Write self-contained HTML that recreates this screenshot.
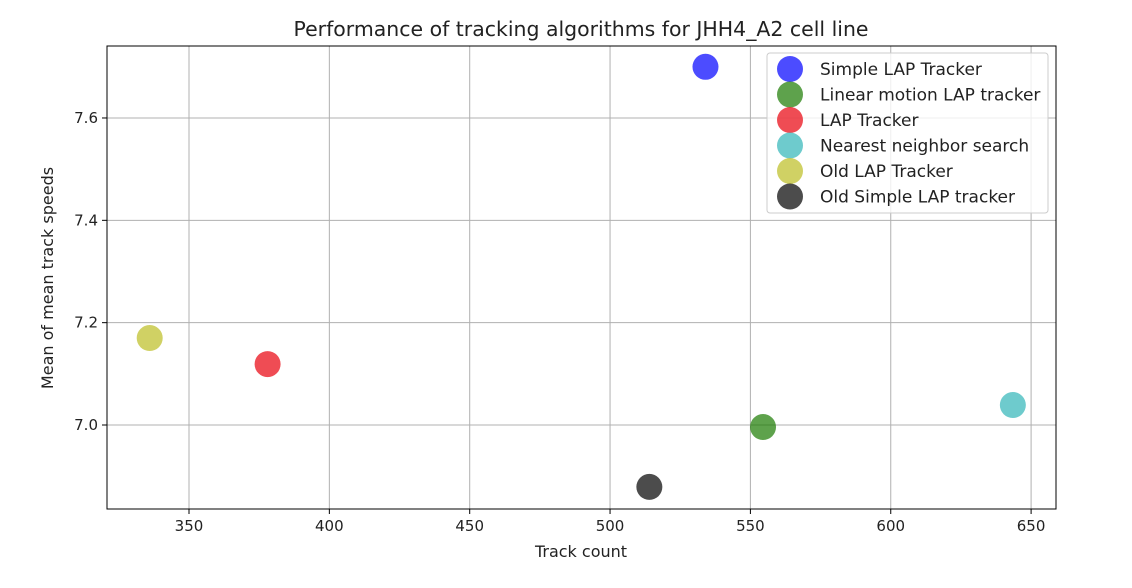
<!DOCTYPE html>
<html><head><meta charset="utf-8"><style>
body{margin:0;background:#fff;font-family:"DejaVu Sans","Liberation Sans",sans-serif;}
svg text{font-family:"DejaVu Sans","Liberation Sans",sans-serif;fill:#222;}
</style></head><body>
<svg id="chart" width="1132" height="584" xmlns="http://www.w3.org/2000/svg">
<text x="581" y="36" font-size="20" text-anchor="middle" textLength="575" lengthAdjust="spacingAndGlyphs">Performance of tracking algorithms for JHH4_A2 cell line</text>
<g id="grid"></g>
<rect x="107" y="46" width="949" height="463" fill="none" stroke="#000" stroke-width="1"/>
<g id="ticks"></g>
<g id="points"></g>
<text x="581" y="557" font-size="16" text-anchor="middle">Track count</text>
<text transform="translate(53,278) rotate(-90)" font-size="16" text-anchor="middle">Mean of mean track speeds</text>
<g id="legend"></g>
</svg>
<script>
const names=["Simple LAP Tracker","Linear motion LAP tracker","LAP Tracker","Nearest neighbor search","Old LAP Tracker","Old Simple LAP tracker"];
const trackCounts=[534,554.5,378,643.5,336,514];
const meanSpeeds=[7.70,6.996,7.119,7.039,7.170,6.879];
const colors=["#0000ff","#1a7a00","#e8000b","#30b5b8","#bcbd22","#000000"];
const xTicks=[350,400,450,500,550,600,650];
const yTicks=[7.0,7.2,7.4,7.6];
const NS="http://www.w3.org/2000/svg";
const sx=v=>189+(v-350)*2.807;
const sy=v=>425-(v-7.0)*511.7;
function mk(t,a,p){const e=document.createElementNS(NS,t);for(const k in a)e.setAttribute(k,a[k]);p.appendChild(e);return e;}
const grid=document.getElementById('grid'),ticks=document.getElementById('ticks');
xTicks.forEach(v=>{
 const l=mk('line',{x1:sx(v),x2:sx(v),y1:46,y2:509,stroke:'#b0b0b0','stroke-width':1},grid);
 
 
 mk('line',{x1:sx(v),x2:sx(v),y1:509,y2:514,stroke:'#000'},ticks);
 const t=mk('text',{x:sx(v),y:531,'font-size':15,'text-anchor':'middle'},ticks);t.textContent=v;
 
 
});
yTicks.forEach(v=>{
 const l=mk('line',{x1:107,x2:1056,y1:sy(v),y2:sy(v),stroke:'#b0b0b0','stroke-width':1},grid);
 
 
 mk('line',{x1:102,x2:107,y1:sy(v),y2:sy(v),stroke:'#000'},ticks);
 const t=mk('text',{x:98,y:sy(v)+5,'font-size':15,'text-anchor':'end'},ticks);t.textContent=v.toFixed(1);
 
 
});
const pts=document.getElementById('points');
trackCounts.forEach((x,i)=>{
 const c=mk('circle',{cx:sx(x),cy:sy(meanSpeeds[i]),r:13,fill:colors[i],'fill-opacity':0.7},pts);
 
 
});
const lg=document.getElementById('legend');
mk('rect',{x:767,y:53,width:281,height:160,rx:3,fill:'#fff','fill-opacity':0.8,stroke:'#ccc'},lg);
names.forEach((n,i)=>{
 const y=69+i*25.5;
 const c=mk('circle',{cx:790,cy:y,r:13,fill:colors[i],'fill-opacity':0.7},lg);
 
 
 const t=mk('text',{x:820,y:y+6,'font-size':17},lg);t.textContent=n;
 
 
});
</script>
</body></html>
